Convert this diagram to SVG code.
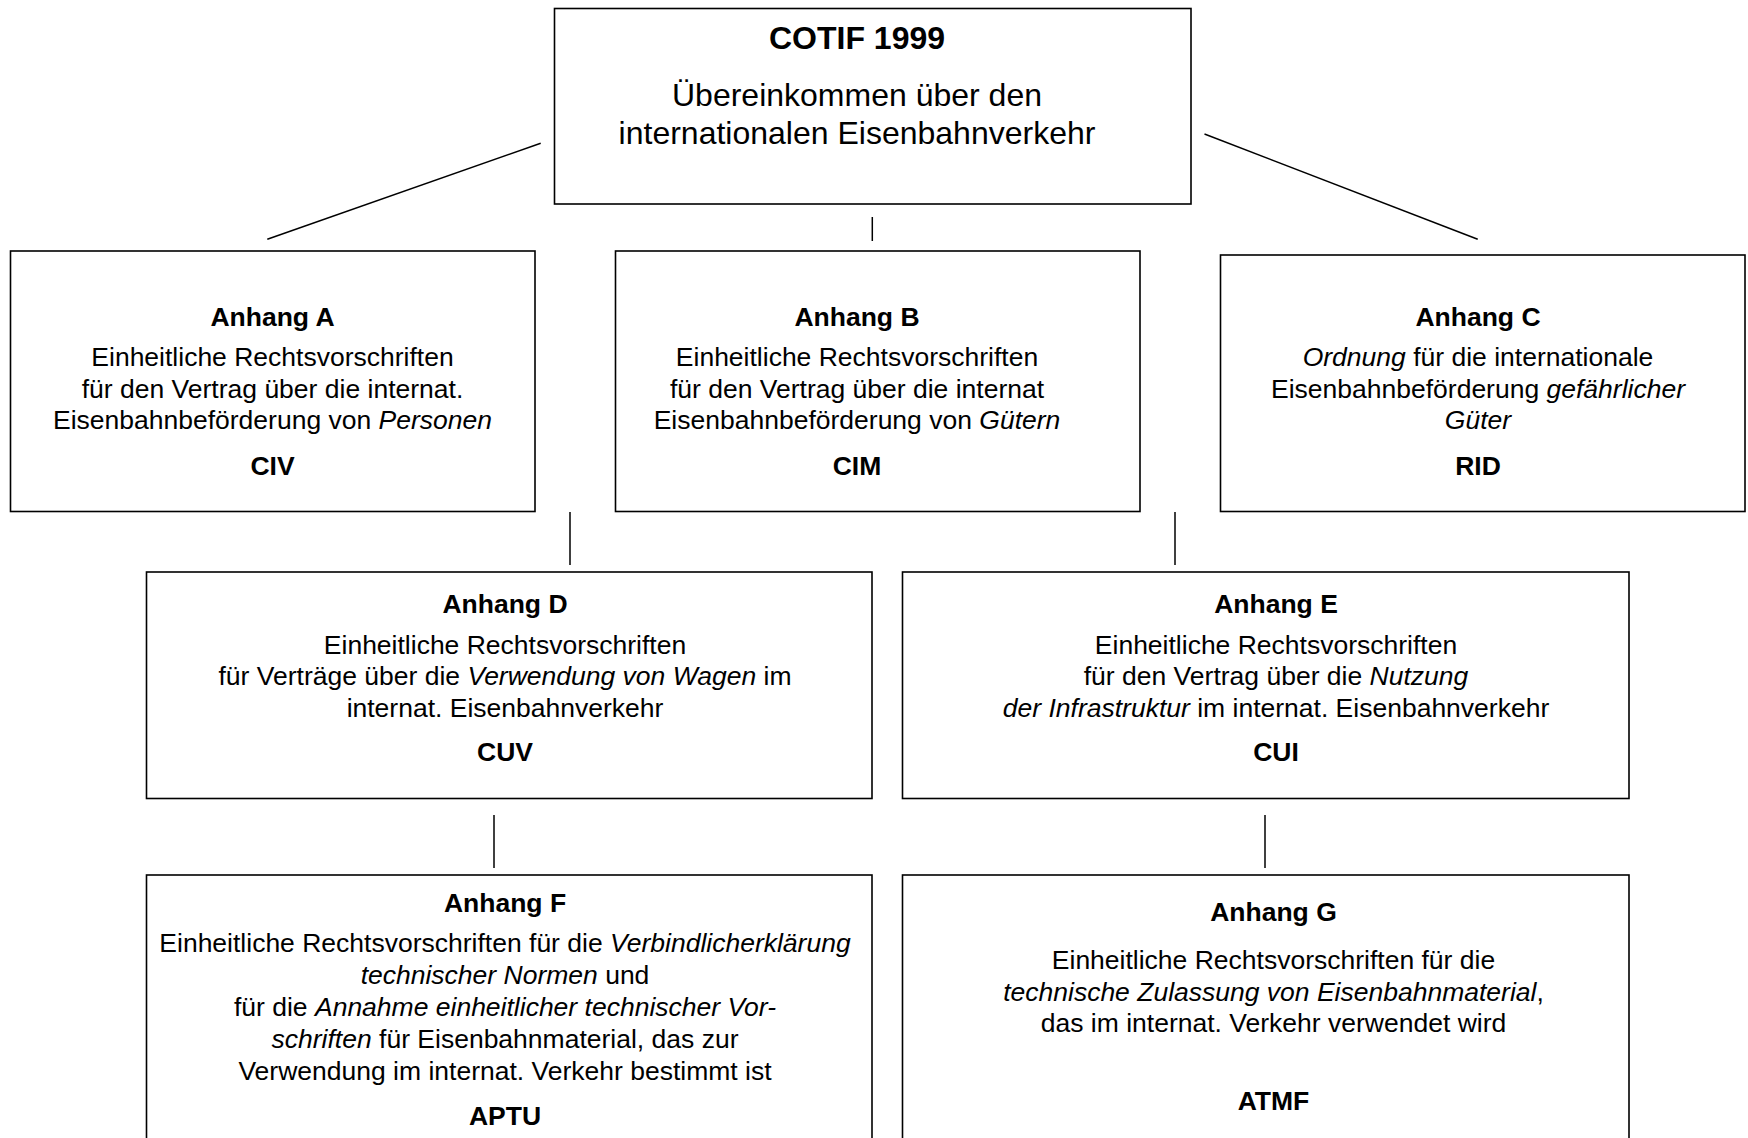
<svg xmlns="http://www.w3.org/2000/svg" width="1748" height="1138" viewBox="0 0 1748 1138">
<style>
.box{fill:#fff;stroke:#000;stroke-width:1.6}
.con line{stroke:#000;stroke-width:1.5}
text{font-family:"Liberation Sans",Arial,sans-serif;font-size:26.5px;fill:#000;text-anchor:middle}
.b{font-weight:bold}
.i{font-style:italic}
.big{font-size:32px}
</style>
<rect width="1748" height="1138" fill="#fff"/>
<g id="connectors" class="con">
<line x1="540.7" y1="143.3" x2="267.3" y2="239.3"/>
<line x1="872.3" y1="217" x2="872.3" y2="241"/>
<line x1="1204.5" y1="134" x2="1477.7" y2="239.3"/>
<line x1="570" y1="512" x2="570" y2="565"/>
<line x1="1175" y1="512" x2="1175" y2="565"/>
<line x1="494" y1="815" x2="494" y2="868"/>
<line x1="1265" y1="815" x2="1265" y2="868"/>
</g>
<g id="cotif">
<rect class="box" x="554.5" y="8.5" width="636.5" height="195.5"/>
<text class="b big" x="857" y="48.5">COTIF 1999</text>
<text class="big" x="857" y="106">Übereinkommen über den</text>
<text class="big" x="857" y="143.5">internationalen Eisenbahnverkehr</text>
</g>
<g id="anhangA">
<rect class="box" x="10.5" y="251" width="524.5" height="260.5"/>
<text class="b" x="272.5" y="326">Anhang A</text>
<text x="272.5" y="366">Einheitliche Rechtsvorschriften</text>
<text x="272.5" y="397.5">für den Vertrag über die internat.</text>
<text x="272.5" y="429">Eisenbahnbeförderung von <tspan class="i">Personen</tspan></text>
<text class="b" x="272.5" y="475">CIV</text>
</g>
<g id="anhangB">
<rect class="box" x="615.5" y="251" width="524.5" height="260.5"/>
<text class="b" x="857" y="326">Anhang B</text>
<text x="857" y="366">Einheitliche Rechtsvorschriften</text>
<text x="857" y="397.5">für den Vertrag über die internat</text>
<text x="857" y="429">Eisenbahnbeförderung von <tspan class="i">Gütern</tspan></text>
<text class="b" x="857" y="475">CIM</text>
</g>
<g id="anhangC">
<rect class="box" x="1220.5" y="255" width="524.5" height="256.5"/>
<text class="b" x="1478" y="326">Anhang C</text>
<text x="1478" y="366"><tspan class="i">Ordnung</tspan> für die internationale</text>
<text x="1478" y="397.5">Eisenbahnbeförderung <tspan class="i">gefährlicher</tspan></text>
<text class="i" x="1478" y="429">Güter</text>
<text class="b" x="1478" y="475">RID</text>
</g>
<g id="anhangD">
<rect class="box" x="146.5" y="572" width="725.5" height="226.5"/>
<text class="b" x="505" y="613">Anhang D</text>
<text x="505" y="653.5">Einheitliche Rechtsvorschriften</text>
<text x="505" y="685">für Verträge über die <tspan class="i">Verwendung von Wagen</tspan> im</text>
<text x="505" y="716.5">internat. Eisenbahnverkehr</text>
<text class="b" x="505" y="760.5">CUV</text>
</g>
<g id="anhangE">
<rect class="box" x="902.5" y="572" width="726.5" height="226.5"/>
<text class="b" x="1276" y="613">Anhang E</text>
<text x="1276" y="653.5">Einheitliche Rechtsvorschriften</text>
<text x="1276" y="685">für den Vertrag über die <tspan class="i">Nutzung</tspan></text>
<text x="1276" y="716.5"><tspan class="i">der Infrastruktur</tspan> im internat. Eisenbahnverkehr</text>
<text class="b" x="1276" y="760.5">CUI</text>
</g>
<g id="anhangF">
<rect class="box" x="146.5" y="875" width="725.5" height="280"/>
<text class="b" x="505" y="912">Anhang F</text>
<text x="505" y="952">Einheitliche Rechtsvorschriften für die <tspan class="i">Verbindlicherklärung</tspan></text>
<text x="505" y="984"><tspan class="i">technischer Normen</tspan> und</text>
<text x="505" y="1016">für die <tspan class="i">Annahme einheitlicher technischer Vor-</tspan></text>
<text x="505" y="1048"><tspan class="i">schriften</tspan> für Eisenbahnmaterial, das zur</text>
<text x="505" y="1080">Verwendung im internat. Verkehr bestimmt ist</text>
<text class="b" x="505" y="1125">APTU</text>
</g>
<g id="anhangG">
<rect class="box" x="902.5" y="875" width="726.5" height="280"/>
<text class="b" x="1273.5" y="921">Anhang G</text>
<text x="1273.5" y="969">Einheitliche Rechtsvorschriften für die</text>
<text x="1273.5" y="1000.5"><tspan class="i">technische Zulassung von Eisenbahnmaterial</tspan>,</text>
<text x="1273.5" y="1032">das im internat. Verkehr verwendet wird</text>
<text class="b" x="1273.5" y="1109.5">ATMF</text>
</g>
</svg>
